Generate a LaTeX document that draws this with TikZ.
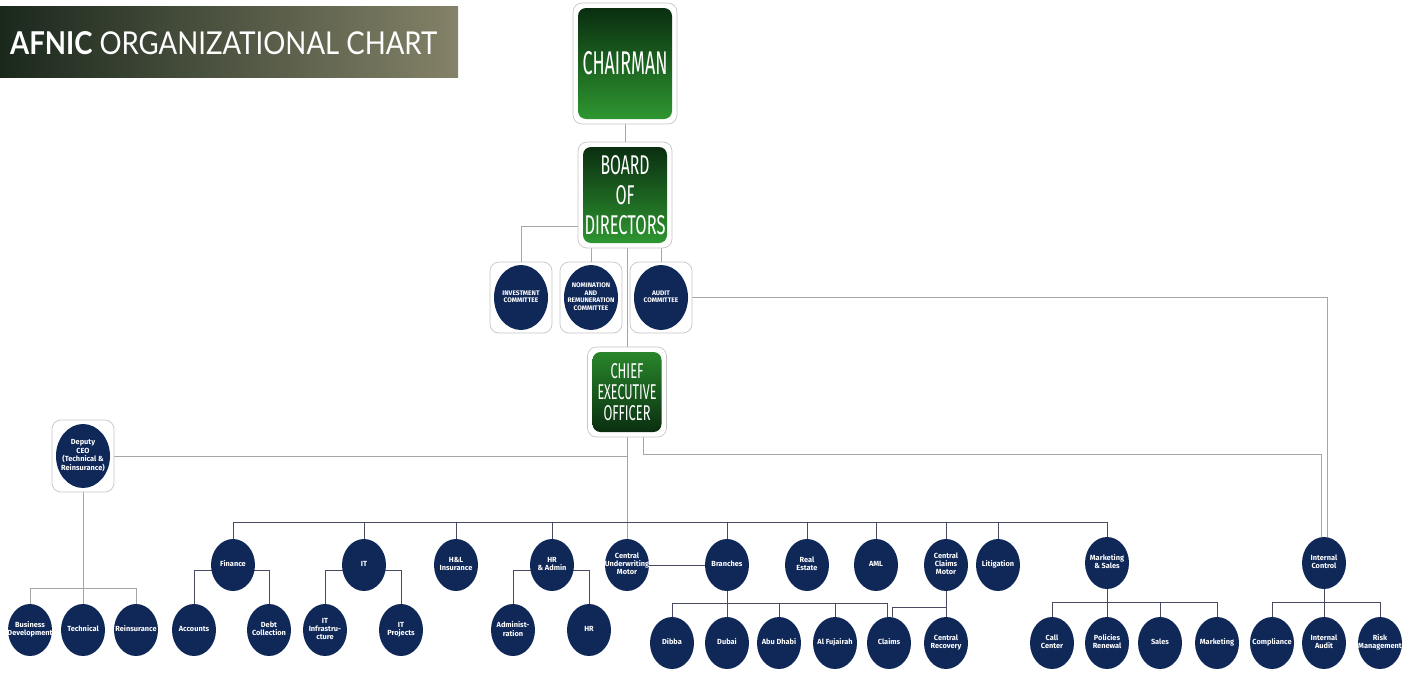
\documentclass[tikz,border=0pt]{standalone}
\usepackage{fontspec}
\setmainfont{Fira Sans}
\newfontfamily\titlefont{Lato}
\usetikzlibrary{shapes.geometric,backgrounds}

\definecolor{navy}{RGB}{16,40,88}
\definecolor{gdark}{RGB}{10,46,16}
\definecolor{glight}{RGB}{46,150,48}
\definecolor{linegray}{RGB}{165,165,172}
\definecolor{treegray}{RGB}{72,74,98}
\definecolor{bannerl}{RGB}{26,40,28}
\definecolor{bannerr}{RGB}{132,130,104}

\newcommand\word[3]{\resizebox{#1pt}{#2pt}{#3}}
\newcommand\ut[1]{\makebox[0pt]{\begin{tabular}{@{}c@{}}#1\end{tabular}}}

\tikzset{
  frame/.style={draw=gray!45, fill=white, line width=0.7pt, rounded corners=9pt},
  greenbox/.style={rounded corners=8pt, top color=gdark, bottom color=glight, text=white, align=center, inner sep=0pt},
  unit/.style={ellipse, fill=navy, text=white, inner sep=0pt, minimum width=44pt, minimum height=52pt, font=\fontsize{7.4}{8}\selectfont\bfseries},
  cunit/.style={unit, minimum width=54pt, minimum height=65pt, font=\fontsize{6.6}{7.4}\selectfont\bfseries},
  link/.style={draw=linegray, line width=0.6pt},
  tree/.style={draw=treegray, line width=0.6pt},
  bar/.style={draw=treegray, line width=0.9pt},
}

\begin{document}
\begin{tikzpicture}[x=1pt, y=-1pt]
    \useasboundingbox (0,0) rectangle (1412,672);

    % title banner
    \fill[left color=bannerl, right color=bannerr] (0,6) rectangle (458,77);
    \node[text=white, anchor=west, inner sep=0pt] (title) at (10,43.5)
        {\word{427}{23}{\titlefont\textbf{AFNIC} ORGANIZATIONAL CHART}};

    % top of the chart
    \node[frame, minimum width=104pt, minimum height=121pt] (chairman) at (625,63.5) {};
    \node[greenbox, minimum width=94pt, minimum height=111pt] (chairmanin) at (chairman) {\word{85}{23}{CHAIRMAN}};

    \node[frame, minimum width=94pt, minimum height=106pt] (board) at (625,195) {};
    \node[greenbox, minimum width=84pt, minimum height=96pt, font=\fontsize{10}{30}\selectfont] (boardin) at (board)
        {\word{49}{19}{BOARD}\\\word{19}{19}{OF}\\\word{81}{19}{DIRECTORS}};

    % committees
    \node[frame, minimum width=62pt, minimum height=71pt] (invest) at (521,297.5) {};
    \node[cunit] (investin) at (invest) {\ut{INVESTMENT\\COMMITTEE}};
    \node[frame, minimum width=62pt, minimum height=71pt] (nomin) at (591,297.5) {};
    \node[cunit] (nominin) at (nomin) {\ut{NOMINATION\\AND\\REMUNERATION\\COMMITTEE}};
    \node[frame, minimum width=62pt, minimum height=71pt] (audit) at (661,297.5) {};
    \node[cunit] (auditin) at (audit) {\ut{AUDIT\\COMMITTEE}};

    \node[frame, minimum width=79pt, minimum height=90pt] (ceo) at (627,392) {};
    \node[greenbox, top color=glight!85!gdark, bottom color=gdark, minimum width=69pt, minimum height=80pt,
          font=\fontsize{10}{21}\selectfont] (ceoin) at (ceo)
        {\word{33}{15}{CHIEF}\\\word{59}{15}{EXECUTIVE}\\\word{47}{15}{OFFICER}};

    \node[frame, minimum width=62pt, minimum height=72pt] (deputy) at (83,456) {};
    \node[cunit, minimum height=64pt, font=\fontsize{7.4}{8.4}\selectfont\bfseries] (deputyin) at (deputy)
        {\ut{Deputy\\CEO\\(Technical \&\\Reinsurance)}};

    % departments
    \node[unit] (finance) at (233,565) {\ut{Finance}};
    \node[unit] (it) at (364,565) {\ut{IT}};
    \node[unit] (hl) at (456,565) {\ut{H\&L\\Insurance}};
    \node[unit] (hradmin) at (552,565) {\ut{HR\\\& Admin}};
    \node[unit] (cum) at (627,565) {\ut{Central\\Underwriting\\Motor}};
    \node[unit] (branches) at (727,565) {\ut{Branches}};
    \node[unit] (realestate) at (807,565) {\ut{Real\\Estate}};
    \node[unit] (aml) at (876,565) {\ut{AML}};
    \node[unit] (ccm) at (946,565) {\ut{Central\\Claims\\Motor}};
    \node[unit] (litigation) at (998,565) {\ut{Litigation}};
    \node[unit] (mkt) at (1107,563) {\ut{Marketing\\\& Sales}};
    \node[unit] (ic) at (1324,563) {\ut{Internal\\Control}};

    % sections
    \node[unit] (bizdev) at (30,630) {\ut{Business\\Development}};
    \node[unit] (technical) at (83,630) {\ut{Technical}};
    \node[unit] (reins) at (136,630) {\ut{Reinsurance}};
    \node[unit] (accounts) at (194,630) {\ut{Accounts}};
    \node[unit] (debt) at (269,630) {\ut{Debt\\Collection}};
    \node[unit] (itinfra) at (325,630) {\ut{IT\\Infrastru-\\cture}};
    \node[unit] (itproj) at (401,630) {\ut{IT\\Projects}};
    \node[unit] (admin) at (513,630) {\ut{Administ-\\ration}};
    \node[unit] (hr) at (589,630) {\ut{HR}};
    \node[unit] (dibba) at (672,643) {\ut{Dibba}};
    \node[unit] (dubai) at (727,643) {\ut{Dubai}};
    \node[unit] (abudhabi) at (779,643) {\ut{Abu Dhabi}};
    \node[unit] (fujairah) at (835,643) {\ut{Al Fujairah}};
    \node[unit] (claims) at (889,643) {\ut{Claims}};
    \node[unit] (recovery) at (946,643) {\ut{Central\\Recovery}};
    \node[unit] (callcenter) at (1052,643) {\ut{Call\\Center}};
    \node[unit] (renewal) at (1107,643) {\ut{Policies\\Renewal}};
    \node[unit] (sales) at (1160,643) {\ut{Sales}};
    \node[unit] (marketing) at (1217,643) {\ut{Marketing}};
    \node[unit] (compliance) at (1272,643) {\ut{Compliance}};
    \node[unit] (intaudit) at (1324,643) {\ut{Internal\\Audit}};
    \node[unit] (risk) at (1380,643) {\ut{Risk\\Management}};

    \coordinate (bar) at (627,522);
    \coordinate (depfork) at (83,588);
    \coordinate (brfork) at (727,603);
    \coordinate (ccfork) at (946,607);
    \coordinate (mkfork) at (1107,602);
    \coordinate (icfork) at (1324,602);
    \coordinate (ctl) at (643,454);

    \begin{scope}[on background layer]
    \draw[link] (chairman) -- (board);
    \draw[link] (invest.north) |- ([yshift=-31pt]board.west);
    \draw[link] (nomin.north) -- (nomin.north |- board.south);
    \draw[link] (audit.north) -- (audit.north |- board.south);
    \draw[link] (ceo.north) -- (ceo.north |- board.south);
    \draw[link] (audit.east) -| ([xshift=3pt]ic.north);
    \draw[link] ([xshift=16pt]ceo.south) -- (ctl) -| ([xshift=-3pt]ic.north);
    \draw[link] (deputy.east) -- (deputy.east -| ceo.south);
    \draw[link] (ceo.south) -- (cum.north);

    % deputy CEO
    \draw[link] (deputy.south) -- (technical.north);
    \draw[link] (bizdev.north) |- (depfork) -| (reins.north);

    % main bar
    \draw[bar] (finance.north) |- (mkt.north |- bar) -- (mkt.north);
    \foreach \n in {it,hl,hradmin,branches,realestate,aml,ccm,litigation}
        \draw[tree] (\n.north) -- (\n.north |- bar);

    \draw[tree] (accounts.north) |- ([yshift=-5pt]finance.center) -| (debt.north);
    \draw[tree] (itinfra.north) |- ([yshift=-5pt]it.center) -| (itproj.north);
    \draw[tree] (admin.north) |- ([yshift=-5pt]hradmin.center) -| (hr.north);
    \draw[tree] (cum) -- (branches);

    \draw[tree] (branches.south) -- (dubai.north);
    \draw[tree] (dibba.north) |- (brfork) -| ([xshift=-2pt]claims.north);
    \foreach \n in {abudhabi,fujairah}
        \draw[tree] (\n.north) -- (\n.north |- brfork);
    \draw[tree] (ccm.south) -- (recovery.north);
    \draw[tree] (ccfork) -| ([xshift=3pt]claims.north);

    \draw[tree] (mkt.south) -- (renewal.north);
    \draw[tree] (callcenter.north) |- (mkfork) -| (marketing.north);
    \draw[tree] (sales.north) -- (sales.north |- mkfork);

    \draw[tree] (ic.south) -- (intaudit.north);
    \draw[tree] (compliance.north) |- (icfork) -| (risk.north);
    \end{scope}
\end{tikzpicture}
\end{document}
